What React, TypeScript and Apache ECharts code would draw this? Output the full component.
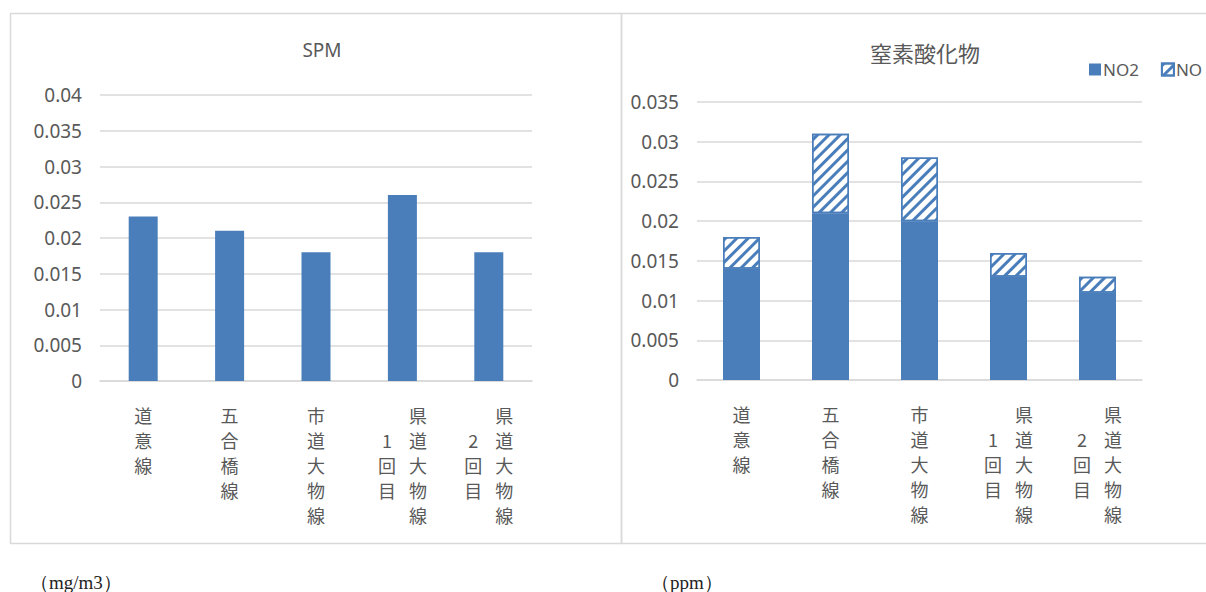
import React, { useEffect, useRef } from "react";
import * as echarts from "echarts";

const categories = ["道意線", "五合橋線", "市道大物線", "県道大物線1回目", "県道大物線2回目"];
const spmValues = [0.023, 0.021, 0.018, 0.026, 0.018];
const no2Values = [0.014, 0.021, 0.02, 0.013, 0.011];
const noValues = [0.004, 0.01, 0.008, 0.003, 0.002];
const spmTitle = "SPM";
const noxTitle = "窒素酸化物";
const seriesNames = ["NO2", "NO"];
const spmUnit = "（mg/m3）";
const noxUnit = "（ppm）";

const BLUE = "#4a7ebb";
const TEXT = "#595959";
const GRID = "#d9d9d9";
const FONT = "'Noto Sans', 'Noto Sans CJK JP', sans-serif";
const CJK = "'Noto Sans CJK JP', 'Noto Sans', sans-serif";

function verticalLabel(name: string): string {
  const m = name.match(/^(.*線)(\d回目)?$/);
  const main = m ? m[1] : name;
  const sub = m && m[2] ? m[2] : "";
  const rows: string[] = [];
  const mainChars = Array.from(main);
  const subChars = Array.from(sub);
  for (let i = 0; i < mainChars.length; i++) {
    if (sub) {
      const s = subChars[i - 1];
      rows.push(`{l|${s ? s : "　"}}{r|${mainChars[i]}}`);
    } else {
      rows.push(`{c|${mainChars[i]}}`);
    }
  }
  return rows.join("\n");
}

const richStyles = {
  l: { width: 31, align: "center", fontSize: 18, lineHeight: 25, color: TEXT, fontFamily: CJK },
  r: { width: 31, align: "center", fontSize: 18, lineHeight: 25, color: TEXT, fontFamily: CJK },
  c: { align: "center", fontSize: 18, lineHeight: 25, color: TEXT, fontFamily: CJK },
};

export default function App() {
  const ref = useRef<HTMLDivElement>(null);
  useEffect(() => {
    if (!ref.current) return;
    const chart = echarts.init(ref.current, null, { renderer: "svg" });
    const yAxisCommon = {
      type: "value",
      min: 0,
      interval: 0.005,
      axisLine: { show: false },
      axisTick: { show: false },
      splitLine: { lineStyle: { color: GRID, width: 1.5 } },
      axisLabel: { color: TEXT, fontSize: 19, fontFamily: FONT, margin: 18 },
    };
    const xAxisCommon = {
      type: "category",
      data: categories,
      axisLine: { lineStyle: { color: GRID, width: 1.5 } },
      axisTick: { show: false },
      axisLabel: {
        interval: 0,
        margin: 21,
        verticalAlign: "top",
        formatter: (v: string) => verticalLabel(v),
        rich: richStyles,
      },
    };
    chart.setOption({
      animation: false,
      backgroundColor: "#ffffff",
      title: [
        {
          text: spmTitle,
          left: 317,
          top: 35,
          textAlign: "center",
          textStyle: { color: TEXT, fontSize: 19, fontWeight: "normal", fontFamily: FONT },
        },
        {
          text: noxTitle,
          left: 920,
          top: 36,
          textAlign: "center",
          textStyle: { color: TEXT, fontSize: 22, fontWeight: "normal", fontFamily: CJK },
        },
      ],
      legend: {
        orient: "horizontal",
        left: 1084,
        top: 56,
        width: 400,
        icon: "rect",
        itemWidth: 12,
        itemHeight: 12,
        itemGap: 22,
        data: seriesNames,
        textStyle: { color: TEXT, fontSize: 17, fontFamily: FONT, padding: [0, 0, 0, -3] },
      },
      grid: [
        { left: 100, right: 674, top: 95, bottom: 211 },
        { left: 697, right: 64, top: 102, bottom: 212 },
      ],
      xAxis: [
        { ...xAxisCommon, gridIndex: 0 },
        { ...xAxisCommon, gridIndex: 1 },
      ],
      yAxis: [
        { ...yAxisCommon, gridIndex: 0, max: 0.04 },
        { ...yAxisCommon, gridIndex: 1, max: 0.035 },
      ],
      series: [
        {
          name: spmTitle,
          type: "bar",
          xAxisIndex: 0,
          yAxisIndex: 0,
          data: spmValues,
          barWidth: 29,
          itemStyle: { color: BLUE },
        },
        {
          name: seriesNames[0],
          type: "bar",
          xAxisIndex: 1,
          yAxisIndex: 1,
          stack: "nox",
          data: no2Values,
          barWidth: 37,
          itemStyle: { color: BLUE },
        },
        {
          name: seriesNames[1],
          type: "bar",
          xAxisIndex: 1,
          yAxisIndex: 1,
          stack: "nox",
          data: noValues,
          barWidth: 37,
          itemStyle: {
            color: "#ffffff",
            borderColor: BLUE,
            borderWidth: 1.5,
            decal: {
              symbol: "rect",
              symbolSize: 1,
              color: BLUE,
              dashArrayX: [1, 0],
              dashArrayY: [3, 5],
              rotation: -Math.PI / 4,
            },
          },
        },
      ],
      graphic: [
        {
          type: "rect",
          shape: { x: 10.5, y: 13.5, width: 611, height: 530 },
          style: { fill: "none", stroke: GRID, lineWidth: 1.5 },
          silent: true,
        },
        {
          type: "rect",
          shape: { x: 621.5, y: 13.5, width: 620, height: 530 },
          style: { fill: "none", stroke: GRID, lineWidth: 1.5 },
          silent: true,
        },
        {
          type: "text",
          x: 30,
          y: 582,
          style: {
            text: spmUnit,
            fill: "#222",
            fontSize: 19,
            fontFamily: "'Liberation Serif', 'DejaVu Serif', serif",
            verticalAlign: "middle",
          },
        },
        {
          type: "text",
          x: 651,
          y: 582,
          style: {
            text: noxUnit,
            fill: "#222",
            fontSize: 19,
            fontFamily: "'Liberation Serif', 'DejaVu Serif', serif",
            verticalAlign: "middle",
          },
        },
      ],
    });
    return () => chart.dispose();
  }, []);
  return (
    <div
      ref={ref}
      style={{ position: "absolute", left: 0, top: 0, width: 1206, height: 592 }}
    />
  );
}
